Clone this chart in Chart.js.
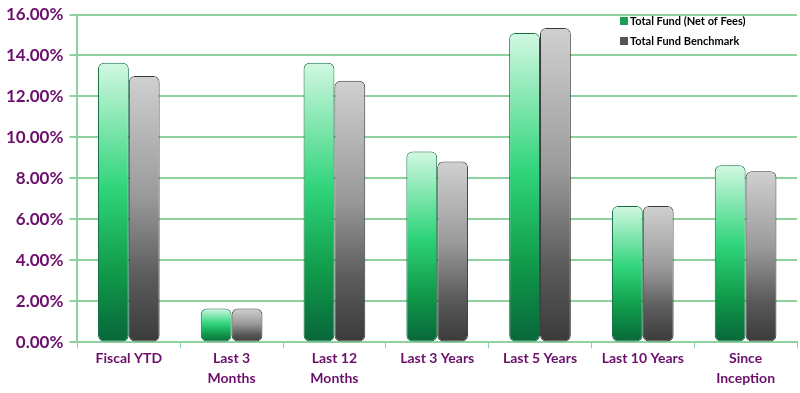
<!DOCTYPE html>
<html>
<head>
<meta charset="utf-8">
<script src="https://cdn.jsdelivr.net/npm/chart.js@4.4.0/dist/chart.umd.min.js"></script>
<style>
  html, body { margin: 0; padding: 0; background: #fff; }
  #wrap { width: 800px; height: 393px; }
</style>
</head>
<body>
<div id="wrap"><canvas id="bars"></canvas></div>
<script>
var categories = [['Fiscal YTD'], ['Last 3', 'Months'], ['Last 12', 'Months'], ['Last 3 Years'], ['Last 5 Years'], ['Last 10 Years'], ['Since', 'Inception']];
var fundNet = [13.64, 1.65, 13.64, 9.32, 15.10, 6.65, 8.64];
var benchmark = [13.00, 1.65, 12.77, 8.83, 15.34, 6.65, 8.35];
var seriesNames = ['Total Fund (Net of Fees)', 'Total Fund Benchmark'];
var yTicks = [0, 2, 4, 6, 8, 10, 12, 14, 16];

var purple = '#6b0f6b';
var gridGreen = '#8fd19e';

// vertical gradient per bar, light on top, dark at the bottom
function barFill(stops) {
  return function(context) {
    var chart = context.chart;
    if (!chart.chartArea || !chart.scales.y) return stops[2];
    var v = context.raw;
    var top = chart.scales.y.getPixelForValue(v);
    var bottom = chart.scales.y.getPixelForValue(0);
    var g = chart.ctx.createLinearGradient(0, top, 0, bottom);
    g.addColorStop(0, stops[0]);
    g.addColorStop(0.45, stops[1]);
    g.addColorStop(0.75, stops[2]);
    g.addColorStop(1, stops[3]);
    return g;
  };
}

var legendBox = {
  id: 'legendBox',
  afterDraw: function(chart) {
    var ctx = chart.ctx;
    var x = 620, y = 21;
    ctx.save();
    ctx.font = 'bold 11px Lato, "Open Sans", sans-serif';
    ctx.textBaseline = 'middle';
    var fills = ['#1aa150', '#555555'];
    for (var i = 0; i < seriesNames.length; i++) {
      ctx.fillStyle = fills[i];
      ctx.fillRect(x, y + i * 20 - 4, 8, 8);
      ctx.fillStyle = '#000';
      ctx.fillText(seriesNames[i], x + 10, y + i * 20);
    }
    ctx.restore();
  }
};

var ctx = document.getElementById('bars').getContext('2d');
var myChart = new Chart(ctx, {
  type: 'bar',
  data: {
    labels: categories,
    datasets: [{
      label: seriesNames[0],
      data: fundNet,
      backgroundColor: barFill(['#d2f8e2', '#2fd47a', '#109a4a', '#08663a']),
      borderColor: '#0e6e3c',
      borderWidth: 1,
      borderRadius: 6,
      borderSkipped: false,
      barPercentage: 1,
      categoryPercentage: 0.6
    }, {
      label: seriesNames[1],
      data: benchmark,
      backgroundColor: barFill(['#d0d0d0', '#9a9a9a', '#5c5c5c', '#3a3a3a']),
      borderColor: '#3a3a3a',
      borderWidth: 1,
      borderRadius: 6,
      borderSkipped: false,
      barPercentage: 1,
      categoryPercentage: 0.6
    }]
  },
  options: {
    responsive: true,
    maintainAspectRatio: false,
    animation: false,
    layout: { padding: { top: 2, right: 3, left: 0, bottom: 4 } },
    plugins: {
      legend: { display: false },
      tooltip: { enabled: false }
    },
    scales: {
      x: {
        grid: { display: true, drawOnChartArea: false, color: gridGreen, tickLength: 6, offset: true },
        border: { color: gridGreen, width: 2 },
        ticks: {
          color: purple,
          font: { family: 'Lato, "Open Sans", sans-serif', weight: 'bold', size: 14, lineHeight: 1.45 },
          maxRotation: 0,
          autoSkip: false,
          padding: 0
        }
      },
      y: {
        min: 0,
        max: 16,
        afterBuildTicks: function(axis) {
          axis.ticks = yTicks.map(function(v) { return { value: v }; });
        },
        grid: { color: gridGreen, lineWidth: 2, tickLength: 8 },
        border: { color: gridGreen, width: 2 },
        ticks: {
          color: purple,
          font: { family: 'Lato, "Open Sans", sans-serif', weight: 'bold', size: 17, lineHeight: 1 },
          padding: 6,
          callback: function(v) { return v.toFixed(2) + '%'; }
        }
      }
    }
  },
  plugins: [legendBox]
});
</script>
</body>
</html>
